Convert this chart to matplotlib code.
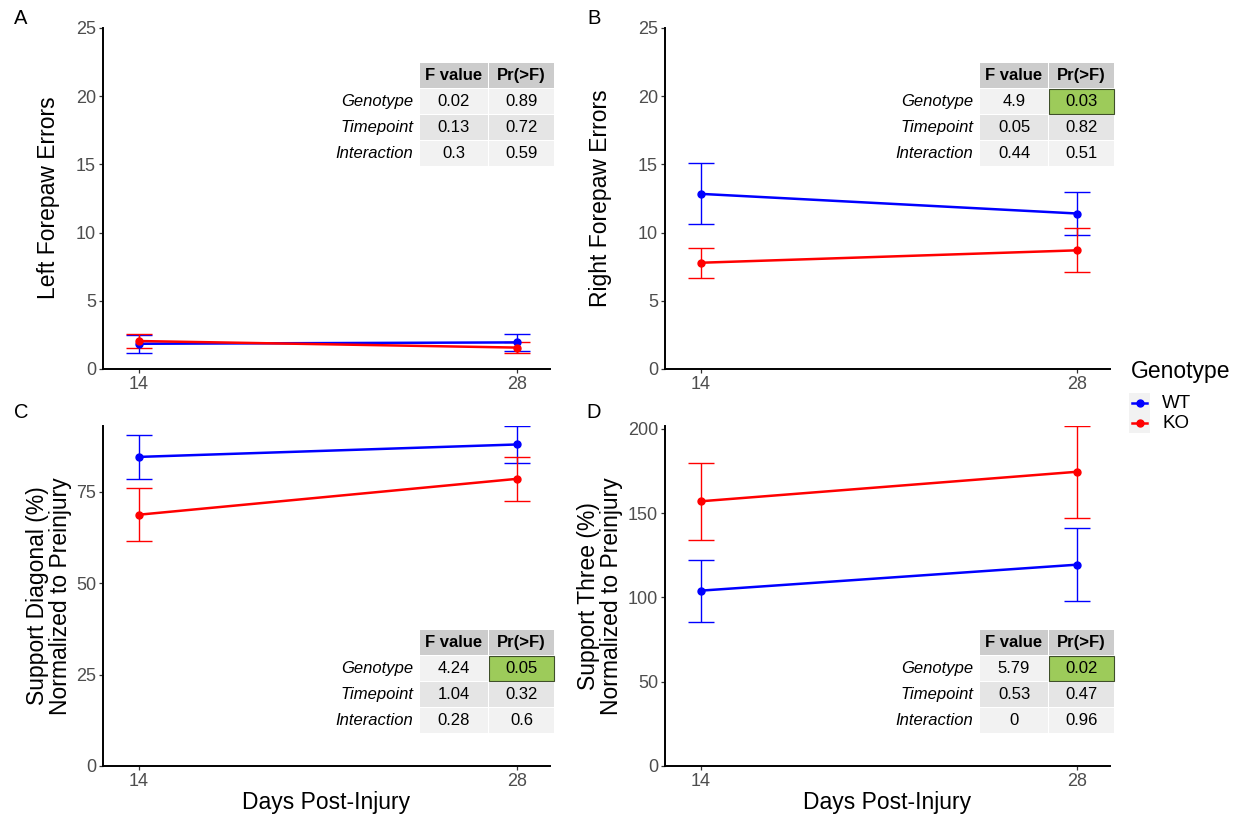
import matplotlib
matplotlib.use("Agg")
import matplotlib.pyplot as plt
from matplotlib.patches import Rectangle
from matplotlib.lines import Line2D

plt.rcParams['font.family'] = ['Liberation Sans', 'DejaVu Sans']

W, H = 1241, 816
days = [14, 28]
genotypes = ['WT', 'KO']
colors = {'WT': '#0000ff', 'KO': '#ff0000'}

# means and standard errors
a_wt = [1.85, 1.95]
a_wt_se = [0.65, 0.60]
a_ko = [2.05, 1.57]
a_ko_se = [0.50, 0.42]

b_wt = [12.84, 11.40]
b_wt_se = [2.24, 1.55]
b_ko = [7.79, 8.70]
b_ko_se = [1.10, 1.62]

c_wt = [84.5, 87.9]
c_wt_se = [6.0, 5.05]
c_ko = [68.7, 78.5]
c_ko_se = [7.2, 6.0]

d_wt = [104.0, 119.4]
d_wt_se = [18.45, 21.75]
d_ko = [157.0, 174.5]
d_ko_se = [22.8, 27.15]

# ANOVA tables
row_names = ['Genotype', 'Timepoint', 'Interaction']
a_f = ['0.02', '0.13', '0.3']
a_p = ['0.89', '0.72', '0.59']
b_f = ['4.9', '0.05', '0.44']
b_p = ['0.03', '0.82', '0.51']
c_f = ['4.24', '1.04', '0.28']
c_p = ['0.05', '0.32', '0.6']
d_f = ['5.79', '0.53', '0']
d_p = ['0.02', '0.47', '0.96']


def fx(x):
    return x / W


def fy(y):
    return 1 - y / H


fig = plt.figure(figsize=(W / 100, H / 100), dpi=100)


def make_ax(left, right, top, bottom):
    ax = fig.add_axes([fx(left), fy(bottom), (right - left) / W, (bottom - top) / H])
    for s in ['top', 'right']:
        ax.spines[s].set_visible(False)
    for s in ['left', 'bottom']:
        ax.spines[s].set_linewidth(1.4)
        ax.spines[s].set_color('black')
    ax.tick_params(length=3, width=0.9, color='#333333', labelcolor='#4d4d4d',
                   labelsize=13, pad=2)
    ax.set_xlim(12.67, 29.23)
    ax.set_xticks(days)
    return ax


def draw_series(ax, wt, wt_se, ko, ko_se):
    for g, m, se in [('WT', wt, wt_se), ('KO', ko, ko_se)]:
        ax.errorbar(days, m, yerr=se, fmt='none', ecolor=colors[g],
                    elinewidth=1.0, capsize=9.7, capthick=1.0, zorder=3)
        ax.plot(days, m, color=colors[g], lw=1.8, marker='o', ms=5, zorder=4)


def draw_table(ax_right, top, fvals, pvals, green):
    c1 = (ax_right - 130, ax_right - 62)
    c2 = (ax_right - 61, ax_right + 4)
    rh = 25
    gap = 1
    fs = 12
    fills = ['#f2f2f2', '#e5e5e5', '#f2f2f2']
    # header
    for (x0, x1), txt in [(c1, 'F value'), (c2, 'Pr(>F)')]:
        fig.patches.append(Rectangle((fx(x0), fy(top + rh)), (x1 - x0) / W, rh / H,
                                     transform=fig.transFigure, facecolor='#cccccc',
                                     edgecolor='none'))
        fig.text(fx((x0 + x1) / 2), fy(top + rh / 2), txt, ha='center', va='center',
                 fontsize=fs, fontweight='bold', color='black')
    for i in range(3):
        y0 = top + (i + 1) * (rh + gap)
        fig.text(fx(ax_right - 137), fy(y0 + rh / 2), row_names[i], ha='right',
                 va='center', fontsize=fs, style='italic', color='black')
        for j, ((x0, x1), txt) in enumerate([(c1, fvals[i]), (c2, pvals[i])]):
            fc = fills[i]
            ec = 'none'
            if j == 1 and green and i == 0:
                fc = '#9dcb5a'
                ec = '#3f4f2a'
            fig.patches.append(Rectangle((fx(x0), fy(y0 + rh)), (x1 - x0) / W, rh / H,
                                         transform=fig.transFigure, facecolor=fc,
                                         edgecolor=ec, linewidth=0.8))
            fig.text(fx((x0 + x1) / 2), fy(y0 + rh / 2), txt, ha='center', va='center',
                     fontsize=fs, color='black')


# panel A
axA = make_ax(103, 550, 28, 369)
draw_series(axA, a_wt, a_wt_se, a_ko, a_ko_se)
axA.set_ylim(0, 25)
axA.set_yticks([0, 5, 10, 15, 20, 25])
draw_table(550, 63, a_f, a_p, False)

# panel B
axB = make_ax(665, 1110, 28, 369)
draw_series(axB, b_wt, b_wt_se, b_ko, b_ko_se)
axB.set_ylim(0, 25)
axB.set_yticks([0, 5, 10, 15, 20, 25])
draw_table(1110, 63, b_f, b_p, True)

# panel C
axC = make_ax(103, 550, 426, 766)
draw_series(axC, c_wt, c_wt_se, c_ko, c_ko_se)
axC.set_ylim(0, max(m + s for m, s in zip(c_wt + c_ko, c_wt_se + c_ko_se)))
axC.set_yticks([0, 25, 50, 75])
draw_table(550, 630, c_f, c_p, True)

# panel D
axD = make_ax(665, 1110, 426, 766)
draw_series(axD, d_wt, d_wt_se, d_ko, d_ko_se)
axD.set_ylim(0, max(m + s for m, s in zip(d_wt + d_ko, d_wt_se + d_ko_se)))
axD.set_yticks([0, 50, 100, 150, 200])
draw_table(1110, 630, d_f, d_p, True)

# axis titles
tsize = 16.5
fig.text(fx(49), fy(198), 'Left Forepaw Errors', rotation=90, ha='center', va='center',
         fontsize=tsize)
fig.text(fx(600), fy(198), 'Right Forepaw Errors', rotation=90, ha='center', va='center',
         fontsize=tsize)
fig.text(fx(49), fy(596), 'Support Diagonal (%)\nNormalized to Preinjury', rotation=90,
         ha='center', va='center', fontsize=tsize, linespacing=0.95)
fig.text(fx(600), fy(596), 'Support Three (%)\nNormalized to Preinjury', rotation=90,
         ha='center', va='center', fontsize=tsize, linespacing=0.95)
fig.text(fx(326), fy(802), 'Days Post-Injury', ha='center', va='center', fontsize=tsize)
fig.text(fx(887), fy(802), 'Days Post-Injury', ha='center', va='center', fontsize=tsize)

# panel letters
for lab, x, y in [('A', 21, 18), ('B', 594, 18), ('C', 21, 413), ('D', 594, 413)]:
    fig.text(fx(x), fy(y), lab, ha='center', va='center', fontsize=14.5)

# legend
fig.text(fx(1131), fy(372), 'Genotype', ha='left', va='center', fontsize=16.5)
fig.patches.append(Rectangle((fx(1129), fy(433)), 21 / W, 40 / H, transform=fig.transFigure,
                             facecolor='#f2f2f2', edgecolor='none'))
for i, g in enumerate(genotypes):
    yk = 403 + i * 20
    fig.lines.append(Line2D([fx(1132), fx(1147)], [fy(yk), fy(yk)], transform=fig.transFigure,
                            color=colors[g], lw=1.8))
    fig.lines.append(Line2D([fx(1139.5)], [fy(yk)], transform=fig.transFigure,
                            color=colors[g], marker='o', ms=5, lw=0))
    fig.text(fx(1162), fy(yk), g, ha='left', va='center', fontsize=13.5)

fig.savefig('out.png', dpi=100)
